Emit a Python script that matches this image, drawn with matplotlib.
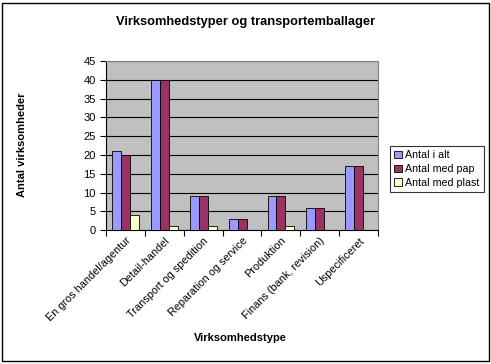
import matplotlib
matplotlib.use("Agg")
import matplotlib.pyplot as plt
import numpy as np
from matplotlib.patches import Rectangle

plt.rcParams['font.family'] = ['Liberation Sans', 'DejaVu Sans']

kategorier = ["En gros handel/agentur", "Detail-handel", "Transport og spedition",
              "Reparation og service", "Produktion", "Finans (bank, revision)",
              "Uspecificeret"]
antal_i_alt = [21, 40, 9, 3, 9, 6, 17]
antal_med_pap = [20, 40, 9, 3, 9, 6, 17]
antal_med_plast = [4, 1, 1, 0, 1, 0, 0]

serier = [("Antal i alt", antal_i_alt, '#9999FF'),
          ("Antal med pap", antal_med_pap, '#993366'),
          ("Antal med plast", antal_med_plast, '#FFFFCC')]

fig = plt.figure(figsize=(4.91, 3.64), dpi=100)
fig.patches.append(Rectangle((0.005, 0.008), 0.99, 0.985, transform=fig.transFigure,
                             fill=False, edgecolor='black', linewidth=1))
ax = fig.add_axes([0.216, 0.368, 0.554, 0.464])
ax.set_facecolor('#C0C0C0')

x = np.arange(len(kategorier))
w = 0.23
for j, (navn, vals, farve) in enumerate(serier):
    ax.bar(x + (j - 1) * w, vals, w, color=farve, edgecolor='black', linewidth=0.6,
           label=navn, zorder=3)

ax.set_xlim(-0.5, len(kategorier) - 0.5)
ax.set_ylim(0, 45)
ax.set_yticks(range(0, 46, 5))
ax.yaxis.grid(True, color='black', linewidth=0.8, zorder=1)
ax.set_axisbelow(True)
ax.set_xticks(np.arange(-0.5, len(kategorier), 1), minor=False)
ax.set_xticklabels([])
ax.set_xticks(x, minor=True)
ax.set_xticklabels(kategorier, minor=True, rotation=45, ha='right', va='top',
                   rotation_mode='anchor', fontsize=7.8)
ax.tick_params(axis='x', which='minor', length=0, pad=4)
ax.tick_params(axis='x', which='major', length=4, direction='out')
ax.tick_params(axis='y', labelsize=8, length=4)
for s in ['top', 'right']:
    ax.spines[s].set_color('#808080')
for s in ['left', 'bottom']:
    ax.spines[s].set_color('black')

fig.text(0.5, 1 - 22 / 364, "Virksomhedstyper og transportemballager", fontsize=9.3,
         fontweight='bold', ha='center', va='center')
fig.text(22 / 491, 1 - 145 / 364, "Antal virksomheder", fontsize=8, fontweight='bold',
         rotation=90, ha='center', va='center')
fig.text(0.49, 1 - 338 / 364, "Virksomhedstype", fontsize=8, fontweight='bold',
         ha='center', va='center')

leg = fig.legend(loc='upper left', bbox_to_anchor=(390 / 491, 1 - 146 / 364), fontsize=7.7,
                 frameon=True, fancybox=False, edgecolor='black', handlelength=0.7,
                 handleheight=0.7, handletextpad=0.3, borderpad=0.4, labelspacing=0.35,
                 borderaxespad=0)
leg.get_frame().set_linewidth(0.8)

fig.savefig("out.png", dpi=100)
